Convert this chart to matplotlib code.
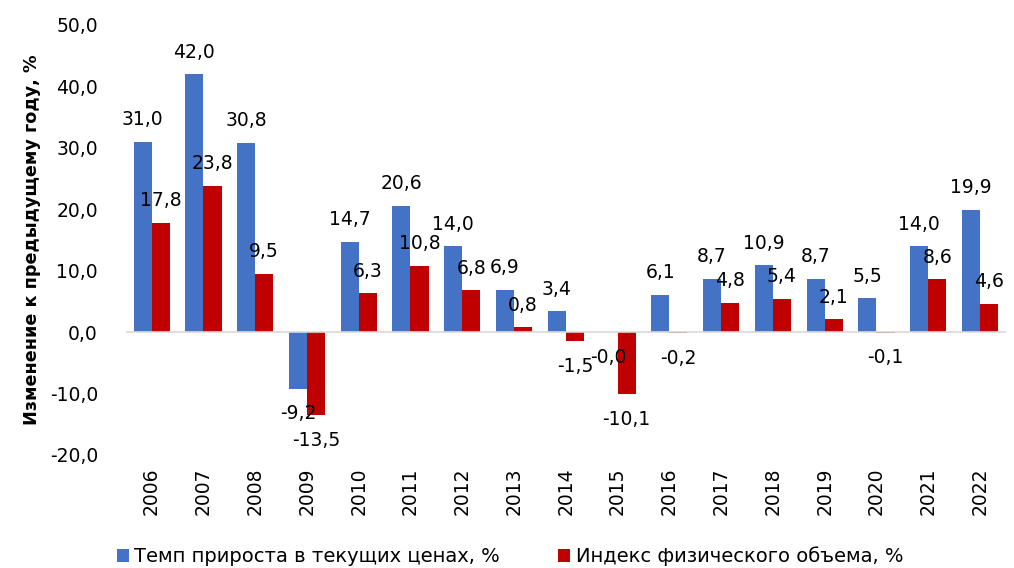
import matplotlib
matplotlib.use("Agg")
import matplotlib.pyplot as plt
import numpy as np

years = ["2006", "2007", "2008", "2009", "2010", "2011", "2012", "2013", "2014",
         "2015", "2016", "2017", "2018", "2019", "2020", "2021", "2022"]
nominal = [31.0, 42.0, 30.8, -9.2, 14.7, 20.6, 14.0, 6.9, 3.4,
           -0.04, 6.1, 8.7, 10.9, 8.7, 5.5, 14.0, 19.9]
volume = [17.8, 23.8, 9.5, -13.5, 6.3, 10.8, 6.8, 0.8, -1.5,
          -10.1, -0.2, 4.8, 5.4, 2.1, -0.1, 8.6, 4.6]
series_names = ["Темп прироста в текущих ценах, %", "Индекс физического объема, %"]
colors = ["#4472C4", "#C00000"]

plt.rcParams['font.family'] = ['DejaVu Sans']
FS = 13.5

fig = plt.figure(figsize=(10.14, 5.68), dpi=100)
ax = fig.add_axes([0.124, 0.199, 0.868, 0.757])

x = np.arange(len(years))
w = 0.35
fmt = lambda v: f"{v:.1f}".replace(".", ",")

for i, (vals, col) in enumerate(zip([nominal, volume], colors)):
    xs = x + (i - 0.5) * w
    ax.bar(xs, vals, width=w, color=col, label=series_names[i], zorder=2)
    for xi, v in zip(xs, vals):
        if v >= 0:
            ax.annotate(fmt(v), (xi, v), xytext=(0, 22), textcoords="offset pixels",
                        ha="center", va="center", fontsize=FS, color="#000000")
        else:
            ax.annotate(fmt(v), (xi, v), xytext=(0, -25), textcoords="offset pixels",
                        ha="center", va="center", fontsize=FS, color="#000000")

ax.set_xlim(-0.5, len(years) - 0.5)
ax.set_ylim(-20, 50)
ax.set_yticks(np.arange(-20, 51, 10))
ax.set_yticklabels([fmt(t) for t in np.arange(-20, 51, 10)], fontsize=FS)
ax.set_xticks(x)
ax.set_xticklabels(years, rotation=90, fontsize=FS)
ax.tick_params(axis="both", length=0)
ax.tick_params(axis="x", pad=9)
ax.tick_params(axis="y", pad=20)
for s in ["top", "right", "left", "bottom"]:
    ax.spines[s].set_visible(False)
ax.axhline(0, color="#D9D9D9", lw=1.2, zorder=3)
ax.set_ylabel("Изменение к предыдущему году, %", fontsize=12.7, fontweight="bold", labelpad=6)

leg = fig.legend(loc="lower left", bbox_to_anchor=(0.098, -0.028), ncol=2, frameon=False,
                 fontsize=14, handlelength=0.6, handleheight=0.7, handletextpad=0.3,
                 columnspacing=3.0)

fig.savefig("out.png", dpi=100)
